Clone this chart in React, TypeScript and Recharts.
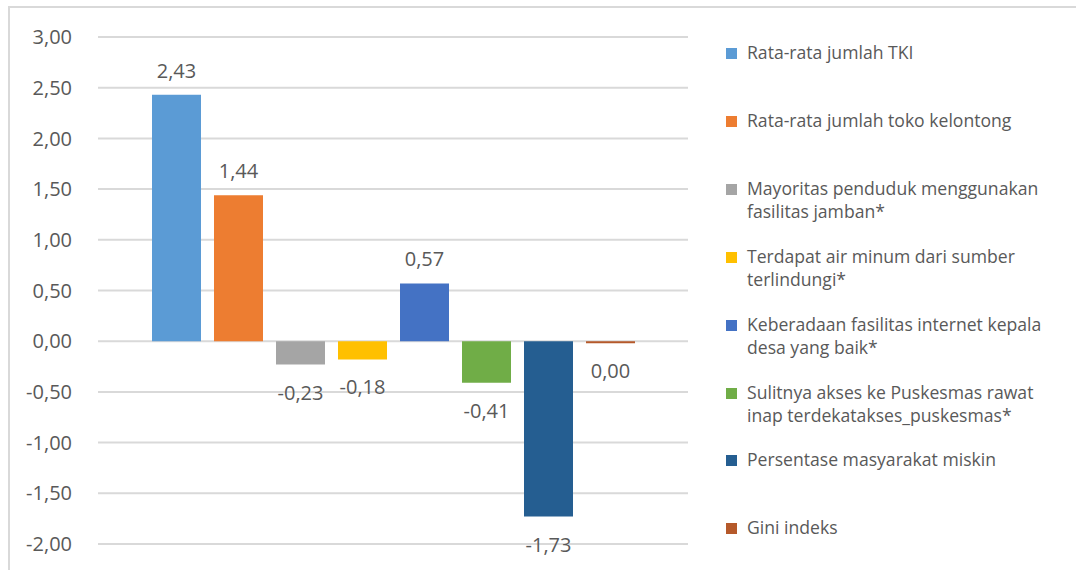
import React from 'react';
import { BarChart, Bar, XAxis, YAxis, CartesianGrid, LabelList } from 'recharts';

const seriesNames = [
  'Rata-rata jumlah TKI',
  'Rata-rata jumlah toko kelontong',
  'Mayoritas penduduk menggunakan fasilitas jamban*',
  'Terdapat air minum dari sumber terlindungi*',
  'Keberadaan fasilitas internet kepala desa yang baik*',
  'Sulitnya akses ke Puskesmas rawat inap terdekatakses_puskesmas*',
  'Persentase masyarakat miskin',
  'Gini indeks',
];

// how the legend text wraps in the original
const legendLines = [
  ['Rata-rata jumlah TKI'],
  ['Rata-rata jumlah toko kelontong'],
  ['Mayoritas penduduk menggunakan', 'fasilitas jamban*'],
  ['Terdapat air minum dari sumber', 'terlindungi*'],
  ['Keberadaan fasilitas internet kepala', 'desa yang baik*'],
  ['Sulitnya akses ke Puskesmas rawat', 'inap terdekatakses_puskesmas*'],
  ['Persentase masyarakat miskin'],
  ['Gini indeks'],
];

const seriesValues = [2.43, 1.44, -0.23, -0.18, 0.57, -0.41, -1.73, -0.004];

const seriesColors = [
  '#5B9BD5',
  '#ED7D31',
  '#A5A5A5',
  '#FFC000',
  '#4472C4',
  '#70AD47',
  '#255E91',
  '#B5592A',
];

const yTicks = [-2, -1.5, -1, -0.5, 0, 0.5, 1, 1.5, 2, 2.5, 3];

const chartData = [
  seriesValues.reduce(
    (row, v, i) => ({ ...row, [`s${i}`]: v }),
    { name: '' } as Record<string, number | string>
  ),
];

const FONT = '"Open Sans", sans-serif';
const TEXT = '#595959';

const fmt = (v: number) => {
  const s = v.toFixed(2);
  return (s === '-0.00' ? '0.00' : s).replace('.', ',');
};

const ValueLabel = (props: any) => {
  const { x, y, width, height, value } = props;
  const top = Math.min(y, y + height);
  const bottom = Math.max(y, y + height);
  const cx = x + width / 2;
  const ty = value >= 0 ? top - 17 : bottom + 35;
  return (
    <text x={cx} y={ty} textAnchor="middle" fill={TEXT} fontSize={20} fontFamily={FONT}>
      {fmt(value)}
    </text>
  );
};

const App: React.FC = () => {
  return (
    <div
      style={{
        position: 'absolute',
        left: 0,
        top: 0,
        width: 1076,
        height: 570,
        background: '#fff',
        overflow: 'hidden',
      }}
    >
      <div
        style={{
          position: 'absolute',
          left: 8,
          top: 6,
          width: 1100,
          height: 600,
          borderTop: '2px solid #d9d9d9',
          borderLeft: '2px solid #d9d9d9',
        }}
      />
      <div style={{ position: 'absolute', left: 0, top: 0 }}>
        <BarChart
          width={1076}
          height={570}
          data={chartData}
          margin={{ top: 37, right: 388, bottom: 26, left: 20 }}
          barCategoryGap={54}
          barGap={13}
        >
          <CartesianGrid vertical={false} stroke="#d9d9d9" strokeWidth={2} />
          <XAxis dataKey="name" hide />
          <YAxis
            width={78}
            domain={[-2, 3]}
            ticks={yTicks}
            interval={0}
            tickFormatter={fmt}
            axisLine={false}
            tickLine={false}
            tickMargin={20}
            tick={{ fill: TEXT, fontSize: 20, fontFamily: FONT }}
          />
          {seriesNames.map((name, i) => (
            <Bar
              key={name}
              dataKey={`s${i}`}
              name={name}
              fill={seriesColors[i]}
              minPointSize={2}
              isAnimationActive={false}
            >
              <LabelList dataKey={`s${i}`} content={ValueLabel} />
            </Bar>
          ))}
        </BarChart>
      </div>
      <div style={{ position: 'absolute', left: 726, top: 41, fontFamily: FONT, color: TEXT, fontSize: 17.6 }}>
        {legendLines.map((lines, i) => (
          <div
            key={seriesNames[i]}
            style={{ position: 'absolute', top: i * 67.9, left: 0, width: 340, lineHeight: '23px' }}
          >
            <span
              style={{
                position: 'absolute',
                left: 0,
                top: 7,
                width: 11,
                height: 11,
                background: seriesColors[i],
              }}
            />
            <div style={{ marginLeft: 21, whiteSpace: 'nowrap' }}>
              {lines.map((l) => (
                <div key={l}>{l}</div>
              ))}
            </div>
          </div>
        ))}
      </div>
    </div>
  );
};

export default App;
